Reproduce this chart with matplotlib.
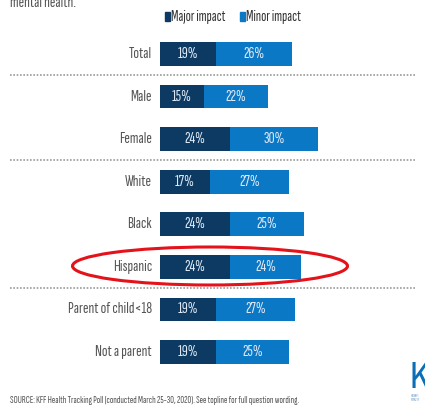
import matplotlib
matplotlib.use("Agg")
import matplotlib.pyplot as plt
from matplotlib.patches import Ellipse, Rectangle
import matplotlib.transforms as mtransforms

categories = ["Total", "Male", "Female", "White", "Black", "Hispanic",
              "Parent of child<18", "Not a parent"]
major = [19, 15, 24, 17, 24, 24, 19, 19]
minor = [26, 22, 30, 27, 25, 24, 27, 25]
series_names = ["Major impact", "Minor impact"]
separators_after = [0, 2, 5]

plt.rcParams['font.family'] = ['Sofia Sans Extra Condensed', 'Pathway Gothic One',
                               'Archivo Narrow', 'DejaVu Sans']

W, H = 425, 409
fig = plt.figure(figsize=(W / 100, H / 100), dpi=100)
fig.patch.set_facecolor("white")

def fx(px):
    return px / W

def fy(py):
    return 1 - py / H

navy = "#0d3a62"
blue = "#0b78c6"
lbl = "#dce8f4"

# axes: x 160..415 px, y 33..373 px
ax = fig.add_axes([fx(160), fy(373), fx(415) - fx(160), fy(33) - fy(373)])
spacing = (352 - 54) / 7
ax.set_xlim(0, 255 / 2.93)
ax.set_ylim(7 + (373 - 352) / spacing, -(54 - 33) / spacing)
ax.axis("off")

ys = list(range(len(categories)))
bh = 0.56
ax.barh(ys, major, height=bh, color=navy, edgecolor="none")
ax.barh(ys, minor, left=major, height=bh, color=blue, edgecolor="none")

fs = 12
for y, c, a, b in zip(ys, categories, major, minor):
    ax.text(a / 2, y, f"{a}%", ha="center", va="center", color=lbl, fontsize=fs)
    ax.text(a + b / 2, y, f"{b}%", ha="center", va="center", color=lbl, fontsize=fs)
    ax.text(-8 / 2.93, y, c, ha="right", va="center", color="#555555", fontsize=fs)

tr = mtransforms.blended_transform_factory(fig.transFigure, ax.transData)
for s in separators_after:
    ax.plot([fx(10), fx(415)], [s + 0.5, s + 0.5], transform=tr, clip_on=False,
            color="#9a9a9a", lw=1.2, ls=(0, (1, 1)))

# legend
for xpx, col, name in [(165, navy, series_names[0]), (240, blue, series_names[1])]:
    fig.add_artist(Rectangle((fx(xpx), fy(21)), 5 / W, 9 / H, transform=fig.transFigure,
                             color=col))
    fig.text(fx(xpx + 6), fy(16.5), name, ha="left", va="center", color="#333333",
             fontsize=11)

# partial title at top
fig.text(fx(10), fy(7), "mental health.", ha="left", va="baseline",
         color="#555555", fontsize=fs)

# source
fig.text(fx(10), fy(400), "SOURCE: KFF Health Tracking Poll (conducted March 25-30, 2020). See topline for full question wording.",
         ha="left", va="center", color="#555555", fontsize=7.4)

# logo fragment
fig.text(fx(410), fy(388), "K", ha="left", va="baseline", color="#0b6fb8",
         fontsize=26, family=["Archivo Narrow", "DejaVu Sans"], fontweight="bold")
fig.text(fx(411), fy(398), "HENRY J\nFAMILY F", ha="left", va="center", color="#5a8fc0",
         fontsize=2.5)

# red ellipse
fig.add_artist(Ellipse((fx(210), fy(266)), 275 / W, 38 / H, transform=fig.transFigure,
                       fill=False, edgecolor="#e4131b", lw=2.2))

fig.savefig("out.png", dpi=100)
